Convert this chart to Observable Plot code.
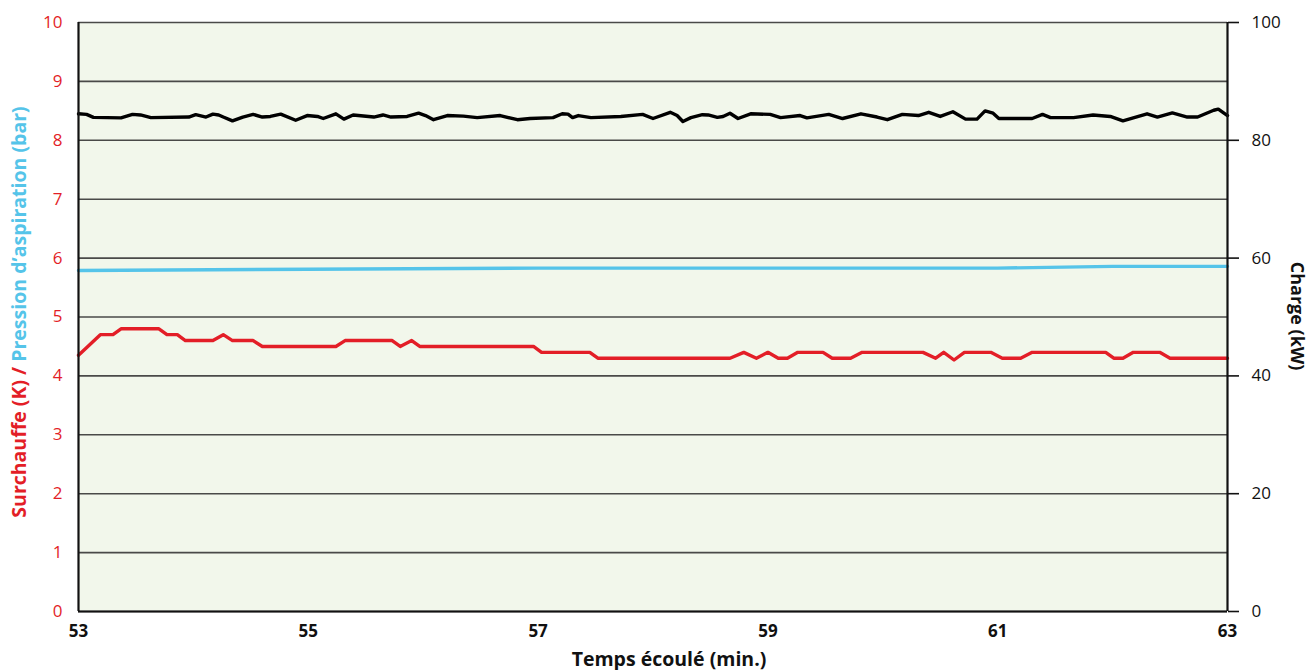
<!DOCTYPE html>
<html><head><meta charset="utf-8">
<script src="https://cdn.jsdelivr.net/npm/d3@7"></script>
<script src="https://cdn.jsdelivr.net/npm/@observablehq/plot@0.6"></script>
<style>body{margin:0;background:#fff;} svg{display:block;}</style>
</head><body><div id="chart"></div>
<script>
// Time axis (minutes)
const xTicks = [53, 55, 57, 59, 61, 63];
const leftTicks = [0, 1, 2, 3, 4, 5, 6, 7, 8, 9, 10];
const rightTicks = [0, 20, 40, 60, 80, 100];

// Superheat (K) - red
const timeSuperheat = [53.0,53.19,53.30,53.37,53.70,53.77,53.86,53.93,54.17,54.26,54.34,54.52,54.60,55.24,55.32,55.73,55.80,55.90,55.97,56.96,57.03,57.45,57.52,58.67,58.79,58.90,59.00,59.09,59.17,59.26,59.48,59.56,59.72,59.82,60.35,60.46,60.53,60.62,60.71,60.94,61.04,61.20,61.30,61.94,62.01,62.09,62.18,62.41,62.50,63.0];
const superheat = [4.35,4.7,4.7,4.8,4.8,4.7,4.7,4.6,4.6,4.7,4.6,4.6,4.5,4.5,4.6,4.6,4.5,4.6,4.5,4.5,4.4,4.4,4.3,4.3,4.4,4.3,4.4,4.3,4.3,4.4,4.4,4.3,4.3,4.4,4.4,4.3,4.4,4.27,4.4,4.4,4.3,4.3,4.4,4.4,4.3,4.3,4.4,4.4,4.3,4.3];

// Suction pressure (bar) - blue
const timePressure = [53.0, 55.0, 57.0, 61.0, 62.0, 63.0];
const pressure = [5.79, 5.81, 5.83, 5.83, 5.86, 5.86];

// Load (kW) - black, right axis
const timeCharge = [53.00,53.07,53.13,53.37,53.47,53.54,53.63,53.96,54.02,54.11,54.17,54.22,54.26,54.34,54.43,54.52,54.60,54.67,54.76,54.89,54.99,55.08,55.13,55.24,55.31,55.39,55.57,55.65,55.72,55.86,55.96,56.02,56.09,56.21,56.35,56.47,56.67,56.82,56.93,57.13,57.21,57.26,57.30,57.35,57.46,57.72,57.91,58.00,58.15,58.21,58.26,58.33,58.43,58.48,58.56,58.61,58.67,58.74,58.85,59.02,59.11,59.28,59.34,59.53,59.65,59.81,59.95,60.04,60.17,60.31,60.40,60.50,60.61,60.72,60.82,60.89,60.96,61.01,61.30,61.39,61.46,61.66,61.83,61.98,62.09,62.30,62.39,62.52,62.65,62.74,62.88,62.92,63.00];
const charge = [84.5,84.4,83.9,83.8,84.4,84.3,83.85,83.95,84.35,83.95,84.45,84.3,83.95,83.3,83.95,84.4,83.95,84.05,84.45,83.4,84.2,84.05,83.7,84.5,83.6,84.3,83.95,84.3,83.95,84.05,84.6,84.2,83.5,84.2,84.1,83.85,84.2,83.5,83.7,83.85,84.5,84.45,83.85,84.2,83.85,84.05,84.4,83.7,84.75,84.2,83.2,83.85,84.35,84.3,83.9,84.05,84.6,83.7,84.5,84.4,83.85,84.2,83.8,84.4,83.7,84.5,83.95,83.5,84.4,84.2,84.75,84.05,84.85,83.6,83.6,85.0,84.6,83.7,83.7,84.4,83.85,83.85,84.3,84.05,83.3,84.5,83.95,84.65,83.95,83.95,85.1,85.3,84.2];

const redData = timeSuperheat.map((t, i) => ({t, v: superheat[i]}));
const blueData = timePressure.map((t, i) => ({t, v: pressure[i]}));
const blackData = timeCharge.map((t, i) => ({t, v: charge[i]}));

const RED = "#e31e27", BLUE = "#55c4e9";
const FONT = "'Open Sans', sans-serif";

const chart = Plot.plot({
  width: 1311, height: 670,
  marginLeft: 78, marginRight: 84, marginTop: 22, marginBottom: 59,
  style: {fontFamily: FONT, background: "#fff", overflow: "visible"},
  x: {domain: [53, 63]},
  y: {domain: [0, 10]},
  marks: [
    Plot.frame({fill: "#f2f7eb", stroke: null}),
    Plot.ruleY(leftTicks, {stroke: "#4a4a48", strokeWidth: 1.6}),
    Plot.line(blueData, {x: "t", y: "v", stroke: BLUE, strokeWidth: 3.4}),
    Plot.line(redData, {x: "t", y: "v", stroke: RED, strokeWidth: 3.4}),
    Plot.line(blackData, {x: "t", y: d => d.v / 10, stroke: "#000", strokeWidth: 3.4}),
    Plot.ruleY([0], {stroke: "#111", strokeWidth: 2}),
    Plot.ruleX([53, 63], {stroke: "#111", strokeWidth: 2.2}),
    Plot.axisY(leftTicks, {anchor: "left", tickSize: 0, tickPadding: 16, color: RED, fontSize: 17, tickFormat: d => String(d), label: null}),
    Plot.axisY(rightTicks.map(d => d / 10), {anchor: "right", tickSize: 11, tickPadding: 13, color: "#111", strokeWidth: 1.6, fontSize: 17, tickFormat: d => String(Math.round(d * 10)), label: null}),
    Plot.axisX(xTicks, {anchor: "bottom", tickSize: 0, tickPadding: 13, fontSize: 17, fontWeight: "bold", color: "#111", tickFormat: d => String(d), label: null})
  ]
});
document.getElementById("chart").appendChild(chart);

const svg = d3.select(chart);
// X axis title
svg.append("text").attr("x", 669).attr("y", 666).attr("text-anchor", "middle")
  .style("font", `bold 19.5px ${FONT}`).attr("fill", "#111").text("Temps écoulé (min.)");
// Left axis title (two colours)
const lt = svg.append("text").attr("transform", "translate(26,312) rotate(-90)").attr("text-anchor", "middle")
  .style("font", `bold 19.5px ${FONT}`);
lt.append("tspan").attr("fill", RED).text("Surchauffe (K) / ");
lt.append("tspan").attr("fill", BLUE).text("Pression d’aspiration (bar)");
// Right axis title
svg.append("text").attr("transform", "translate(1291,316) rotate(90)").attr("text-anchor", "middle")
  .style("font", `bold 18px ${FONT}`).attr("fill", "#111").text("Charge (kW)");
</script></body></html>
